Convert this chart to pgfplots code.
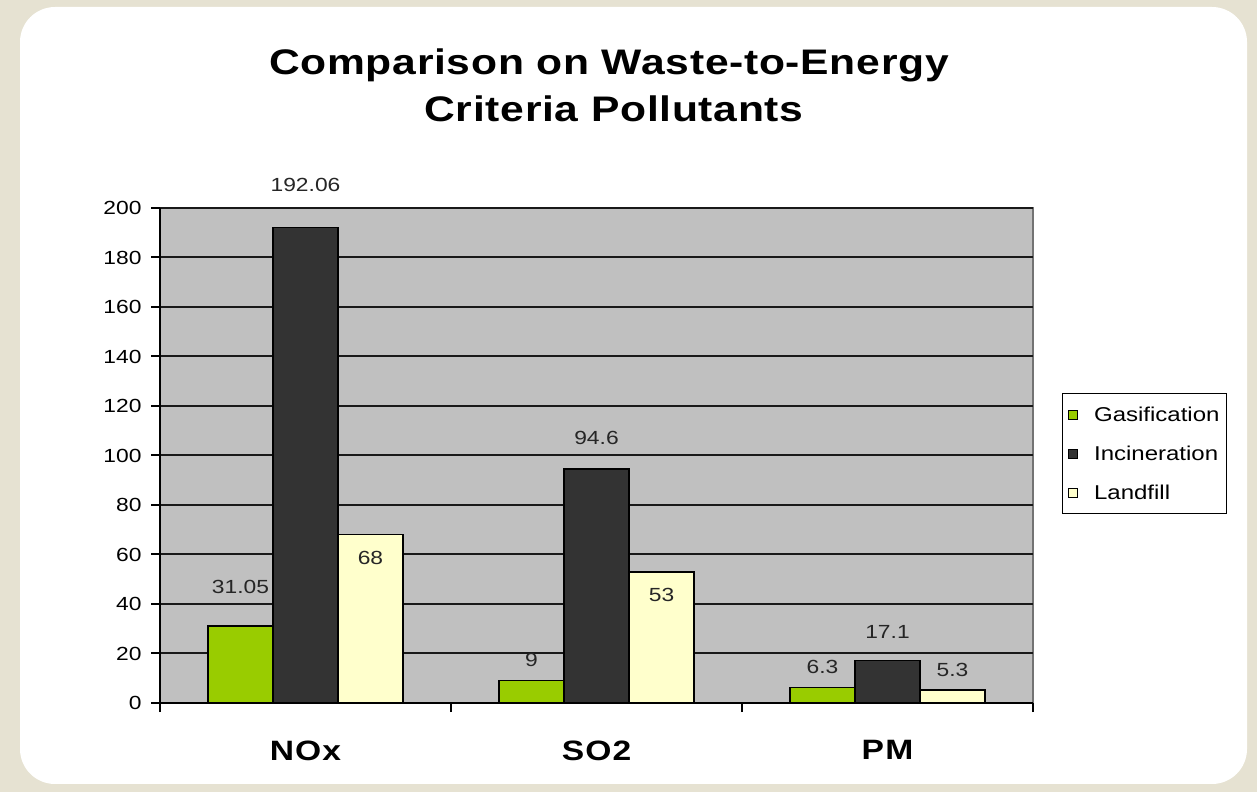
\documentclass[border=0pt]{standalone}
\usepackage{fontspec}
\setmainfont{Liberation Sans}[FakeStretch=1.2]
\usepackage{pgfplots}
\pgfplotsset{compat=1.18}

\definecolor{pagebg}{HTML}{E6E2D2}
\definecolor{plotbg}{HTML}{C0C0C0}
\definecolor{gasif}{HTML}{99CC00}
\definecolor{incin}{HTML}{333333}
\definecolor{landf}{HTML}{FFFFCC}

\pgfplotsset{
  legsq/.style={legend image code/.code={%
    \draw[##1, line width=1.2bp] (0bp,-4.5bp) rectangle (9bp,4.5bp);
    \path (23bp,0bp);}},
  lbl/.style={only marks, mark=none, forget plot, point meta=explicit symbolic,
    nodes near coords, every node near coord/.append style={anchor=center, xshift=#1,
      font=\fontsize{19bp}{22bp}\selectfont, text=black!85}},
}

\begin{document}
\begin{tikzpicture}
\fill[pagebg] (0,0) rectangle (1257bp,792bp);
\fill[white, rounded corners=35bp] (20bp,8bp) rectangle (1247bp,785bp);
\node[anchor=base, font=\bfseries\fontsize{35.5bp}{40bp}\selectfont\addfontfeature{LetterSpace=2}] at (609bp,717bp) {Comparison on Waste-to-Energy};
\node[anchor=base, font=\bfseries\fontsize{35.5bp}{40bp}\selectfont\addfontfeature{LetterSpace=2}] at (614bp,670bp) {Criteria Pollutants};

\begin{axis}[
  at={(160bp,89bp)}, anchor=south west,
  scale only axis, width=873bp, height=495bp,
  xmin=-0.5, xmax=2.5, ymin=0, ymax=200,
  clip=false,
  axis x line*=bottom, axis y line*=left,
  axis line style={-, line width=2bp, black},
  axis background/.style={fill=plotbg, draw=black!55, line width=1.5bp},
  ymajorgrids, grid style={line width=2bp, black!90},
  ytick={0,20,...,200},
  xtick={-0.5,0.5,1.5,2.5}, xticklabels={},
  tick align=outside, major tick length=9bp,
  tick style={line width=2bp, black},
  extra x ticks={0,1,2}, extra x tick labels={NOx,SO2,PM},
  extra x tick style={major tick length=0pt, grid=none,
    xticklabel style={font=\bfseries\fontsize{28bp}{32bp}\selectfont\addfontfeature{LetterSpace=4}, yshift=-34bp}},
  yticklabel style={font=\fontsize{19bp}{22bp}\selectfont, xshift=-6bp},
  /pgf/number format/assume math mode=true,
  legend style={at={(1.0332,0.6263)}, anchor=north west, draw=black, line width=1.5bp,
    fill=white, font=\fontsize{20bp}{24bp}\selectfont, row sep=19bp,
    inner xsep=5bp, inner ysep=11bp},
  legend cell align=left,
]
\addplot[ybar, bar width=65bp, bar shift=-65bp, fill=gasif, draw=black, line width=1.5bp, legsq]
  coordinates {(0,31.05) (1,9) (2,6.3)};
\addlegendentry{Gasification}
\addplot[ybar, bar width=65bp, bar shift=0bp, fill=incin, draw=black, line width=1.5bp, legsq]
  coordinates {(0,192.06) (1,94.6) (2,17.1)};
\addlegendentry{Incineration}
\addplot[ybar, bar width=65bp, bar shift=65bp, fill=landf, draw=black, line width=1.5bp, legsq]
  coordinates {(0,68) (1,53) (2,5.3)};
\addlegendentry{Landfill}

% data labels, placed where the original puts them
\addplot[lbl=-65bp] coordinates {(0,46.9) [31.05] (1,17.4) [9] (2,14.5) [6.3]};
\addplot[lbl=0bp] coordinates {(0,209.3) [192.06] (1,107.1) [94.6] (2,28.7) [17.1]};
\addplot[lbl=65bp] coordinates {(0,58.6) [68] (1,43.5) [53] (2,13.3) [5.3]};
\end{axis}
\end{tikzpicture}
\end{document}
